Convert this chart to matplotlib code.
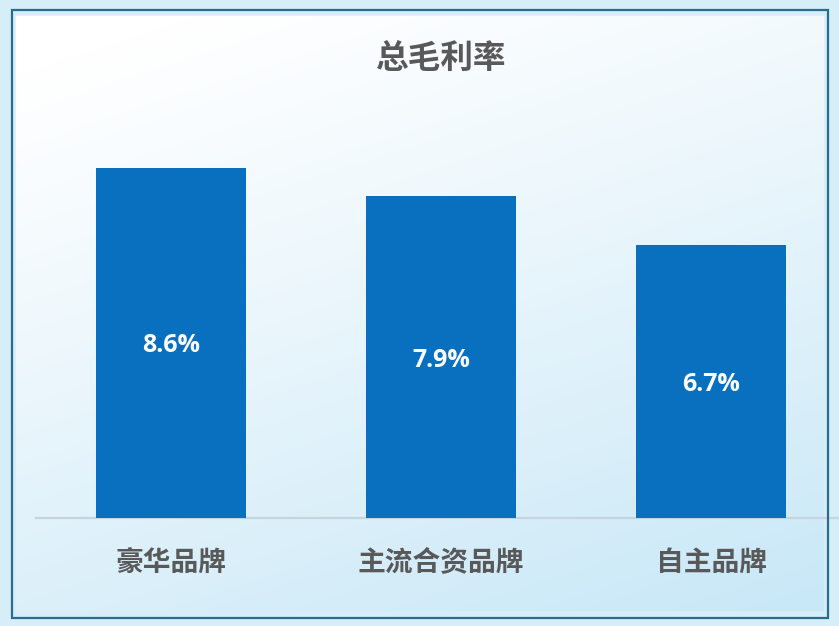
import numpy as np
import matplotlib.pyplot as plt
from matplotlib.patches import Rectangle

plt.rcParams['font.family'] = ['Noto Sans CJK SC', 'DejaVu Sans']

# data
categories = ["豪华品牌", "主流合资品牌", "自主品牌"]
margins = [8.6, 7.9, 6.7]
value_labels = ["8.6%", "7.9%", "6.7%"]
title = "总毛利率"

W, H = 839, 626
fig = plt.figure(figsize=(W / 100, H / 100), dpi=100)

# background gradient (white top-left -> light blue bottom-right)
bg = fig.add_axes([0, 0, 1, 1], zorder=-10)
yy, xx = np.mgrid[0:1:200j, 0:1:260j]
t = np.clip(0.8 * yy + 0.35 * xx - 0.1, 0, 1) ** 1.1
c0 = np.array([1.0, 1.0, 1.0])
c1 = np.array([0.79, 0.91, 0.97])
img = c0 + (c1 - c0) * t[..., None]
bg.imshow(img, extent=[0, 1, 0, 1], origin="upper", aspect="auto")
bg.set_axis_off()

# outer margin outside the frame
fig.patches.append(Rectangle((0, 0), 1, 1, transform=fig.transFigure,
                             facecolor="none", edgecolor="#d6eef8",
                             linewidth=22, zorder=-5))
fig.patches.append(Rectangle((12 / W, 8 / H), (828 - 12) / W, (616 - 8) / H,
                             transform=fig.transFigure, facecolor="none",
                             edgecolor="#2a6c8c", linewidth=1.6, zorder=5))

ax = fig.add_axes([36 / W, (H - 518) / H, (W - 36) / W, 388 / H])
ax.patch.set_alpha(0)
x = np.arange(len(categories))
bars = ax.bar(x, margins, width=150 / 270, color="#0870bf", zorder=3)

for b, lab in zip(bars, value_labels):
    ax.text(b.get_x() + b.get_width() / 2, b.get_height() / 2, lab,
            ha="center", va="center_baseline", color="white", fontsize=18,
            fontweight="bold", family=["Open Sans", "DejaVu Sans"], zorder=4)

ax.set_xlim(-0.5, (W - 171) / 270)
ax.set_ylim(0, 9.53)
ax.set_xticks(x)
ax.set_xticklabels(categories, fontsize=20, fontweight="bold", color="#595959")
ax.tick_params(axis="x", length=0, pad=22)
ax.set_yticks([])
for s in ["top", "right", "left"]:
    ax.spines[s].set_visible(False)
ax.spines["bottom"].set_color("#c9d3dc")
ax.spines["bottom"].set_linewidth(1.6)

fig.text(441 / W, 1 - 58 / H, title, ha="center", va="center",
         fontsize=23.5, fontweight="bold", color="#595959")

fig.savefig("out.png", dpi=100)
